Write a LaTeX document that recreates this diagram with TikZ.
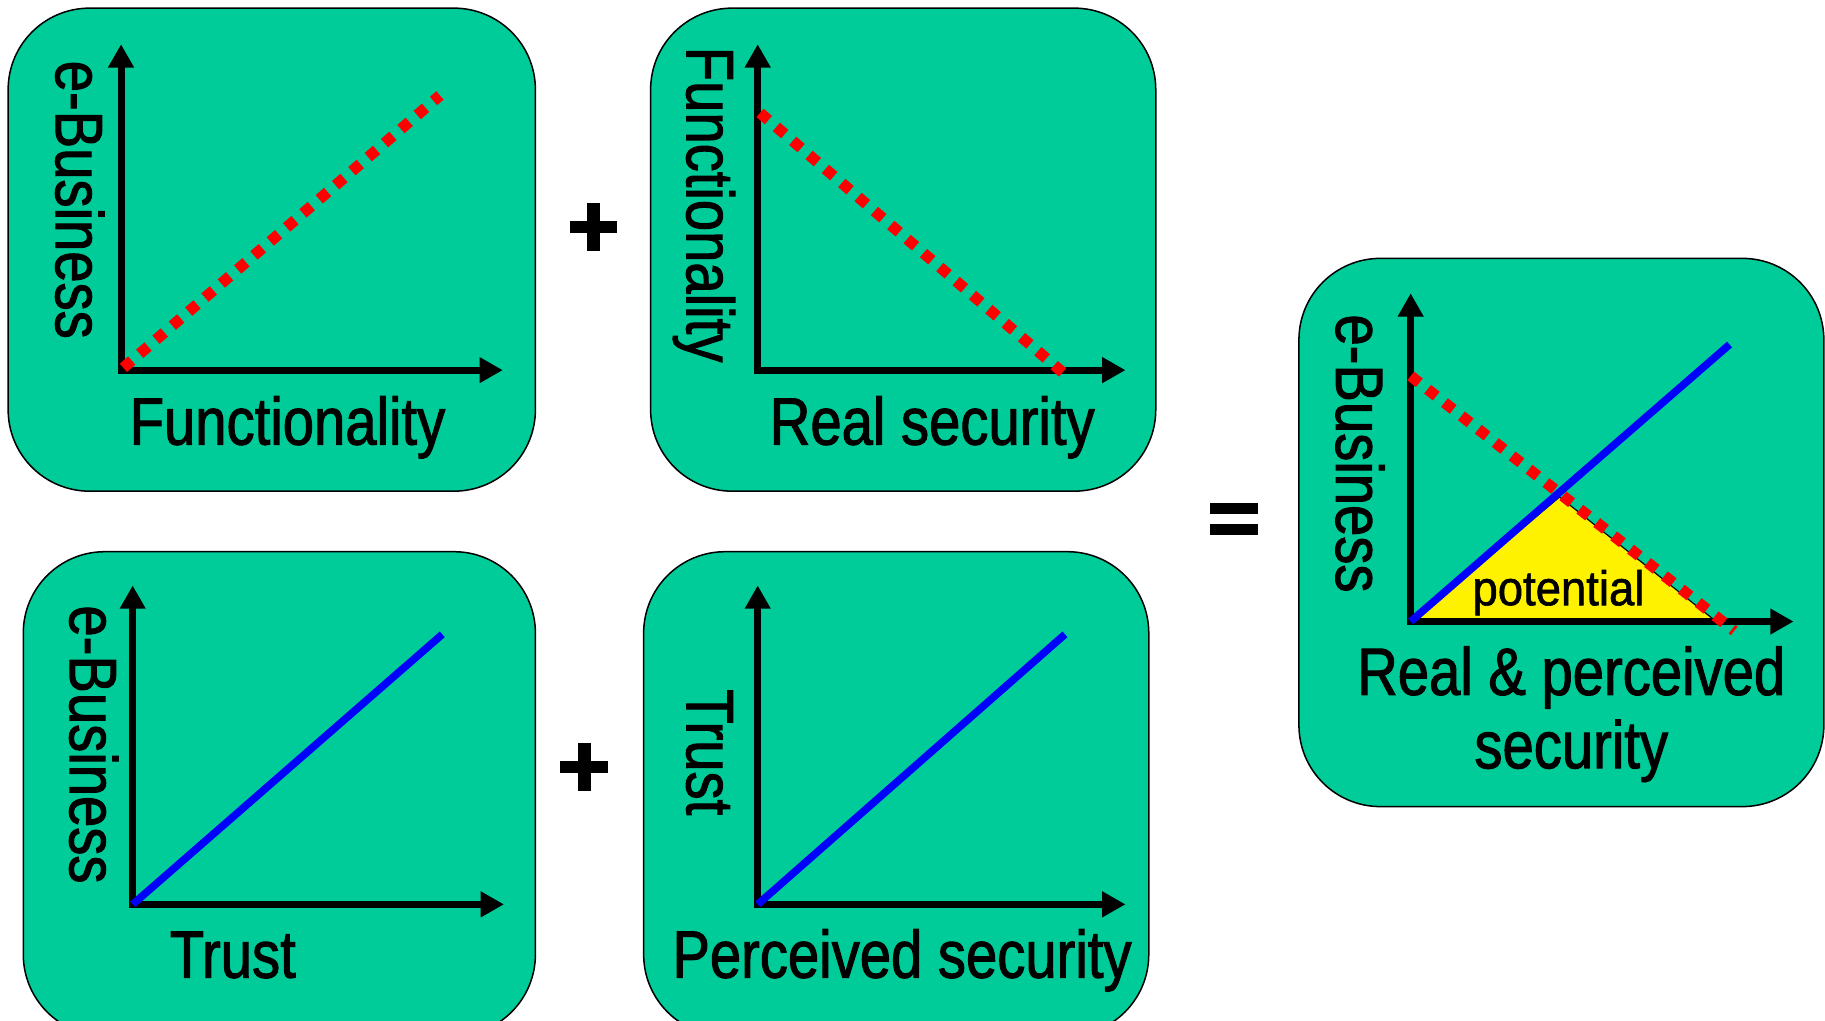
\documentclass[tikz,border=0pt]{standalone}
\usepackage{fontspec}
\setmainfont{Liberation Sans}[FakeStretch=0.84,FakeBold=1.5]
\newfontfamily\potfont{Liberation Sans}[FakeStretch=0.93,FakeBold=1.2]
\usetikzlibrary{arrows.meta}
\definecolor{panelgreen}{RGB}{0,204,153}
\tikzset{
  panel/.style={draw=black, line width=1.3pt, fill=panelgreen, rounded corners=70pt},
  axes/.style={line width=6pt, line join=miter,
    {Triangle[length=20pt,width=21pt]}-{Triangle[length=20pt,width=21pt]}},
  reddots/.style={draw=red, line width=9.5pt, dash pattern=on 9.5pt off 9pt},
  blueline/.style={draw=blue, line width=6.5pt},
  lbl/.style={font=\fontsize{57.5}{69}\selectfont, inner sep=0pt, text=black},
  vlbl/.style={lbl, rotate=-90, anchor=base west},
  hlbl/.style={lbl, anchor=base},
  potlbl/.style={font=\potfont\fontsize{42}{50}\selectfont, inner sep=0pt, anchor=base},
  opbar/.style={fill=black, draw=none},
  tri/.style={fill=yellow, draw=black, line width=1pt, line join=miter}
}
\begin{document}
\begin{tikzpicture}[x=1pt,y=-1pt]
\useasboundingbox (0,0) rectangle (1568,877);

% panels
\draw[panel] (7,7) rectangle (460,422);
\draw[panel] (559,7) rectangle (993,422);
\draw[panel] (20,474) rectangle (460,890);
\draw[panel] (553,474) rectangle (987,890);
\draw[panel] (1116,222) rectangle (1567,693);

% operators
\fill[opbar] (489.5,189.5) rectangle (530.5,200.5);
\fill[opbar] (504.5,174.5) rectangle (515.5,215.5);
\fill[opbar] (481.5,653.5) rectangle (522.5,664.5);
\fill[opbar] (496.5,638.5) rectangle (507.5,679.5);
\fill[opbar] (1040,432) rectangle (1081,442);
\fill[opbar] (1040,450) rectangle (1081,460);

% panel 1
\coordinate (o1) at (104,318);
\coordinate (ty1) at (104,38);
\coordinate (tx1) at (432,318);
\draw[axes] (ty1) -- (o1) -- (tx1);
\coordinate (r1a) at (106,316);
\coordinate (r1b) at (378,82);
\draw[reddots] (r1a) -- (r1b);
\node[vlbl] (yl1) at (48,52) {e-Business};
\node[hlbl] (xl1) at (247,382) {Functionality};

% panel 2
\coordinate (o2) at (651,318);
\coordinate (ty2) at (651,38);
\coordinate (tx2) at (967,318);
\draw[axes] (ty2) -- (o2) -- (tx2);
\coordinate (r2a) at (653,97);
\coordinate (r2b) at (913,320);
\draw[reddots] (r2a) -- (r2b);
\node[vlbl] (yl2) at (590,40) {Functionality};
\node[hlbl] (xl2) at (801,382) {Real security};

% panel 3
\coordinate (o3) at (114,777);
\coordinate (ty3) at (114,503);
\coordinate (tx3) at (433,777);
\draw[axes] (ty3) -- (o3) -- (tx3);
\coordinate (b3) at (380,545);
\draw[blueline] (o3) -- (b3);
\node[vlbl] (yl3) at (60,520) {e-Business};
\node[hlbl] (xl3) at (200,840) {Trust};

% panel 4
\coordinate (o4) at (651,777);
\coordinate (ty4) at (651,503);
\coordinate (tx4) at (967,777);
\draw[axes] (ty4) -- (o4) -- (tx4);
\coordinate (b4) at (915,545);
\draw[blueline] (o4) -- (b4);
\node[vlbl] (yl4) at (590,592) {Trust};
\node[hlbl] (xl4) at (775,840) {Perceived security};

% panel 5
\coordinate (o5) at (1212,534);
\coordinate (ty5) at (1212,252);
\coordinate (tx5) at (1541,534);
\coordinate (p5a) at (1214,532);
\coordinate (p5b) at (1340,427);
\coordinate (p5c) at (1472,532);
\filldraw[tri] (p5a) -- (p5b) -- (p5c) -- cycle;
\draw[axes] (ty5) -- (o5) -- (tx5);
\coordinate (r5a) at (1212,323);
\coordinate (r5b) at (1490,542);
\draw[reddots] (r5a) -- (r5b);
\coordinate (b5) at (1486,296);
\draw[blueline] (o5) -- (b5);
\node[potlbl] (pot) at (1339,520) {potential};
\node[vlbl] (yl5) at (1148,270) {e-Business};
\node[hlbl] (xl5a) at (1350,597) {Real \& perceived};
\node[hlbl] (xl5b) at (1350,660) {security};
\end{tikzpicture}
\end{document}
